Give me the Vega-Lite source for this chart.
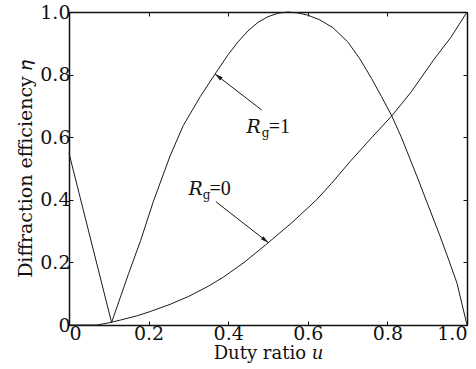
{
  "$schema": "https://vega.github.io/schema/vega-lite/v6.json",
  "width": 398,
  "height": 313,
  "autosize": {"type": "none"},
  "padding": {"left": 69, "top": 12, "right": 9, "bottom": 44},
  "background": "white",
  "config": {
    "view": {"stroke": null},
    "font": "DejaVu Serif",
    "axis": {
      "grid": false,
      "labelFont": "DejaVu Serif",
      "labelFontSize": 19,
      "labelColor": "#111",
      "titleFont": "DejaVu Serif",
      "titleFontSize": 18,
      "titleFontWeight": "normal",
      "titleColor": "#111",
      "domainColor": "#111",
      "domainWidth": 1.5,
      "tickColor": "#111",
      "tickWidth": 1,
      "tickSize": -4,
      "labelPadding": 3
    }
  },
  "datasets": {
    "curves": [
      {"series": "Rg=1", "u": 0.0, "eta": 0.549},
      {"series": "Rg=1", "u": 0.035, "eta": 0.372},
      {"series": "Rg=1", "u": 0.07, "eta": 0.195},
      {"series": "Rg=1", "u": 0.107, "eta": 0.008},
      {"series": "Rg=1", "u": 0.15, "eta": 0.165},
      {"series": "Rg=1", "u": 0.18, "eta": 0.27},
      {"series": "Rg=1", "u": 0.212, "eta": 0.395},
      {"series": "Rg=1", "u": 0.254, "eta": 0.54},
      {"series": "Rg=1", "u": 0.287, "eta": 0.637},
      {"series": "Rg=1", "u": 0.33, "eta": 0.73},
      {"series": "Rg=1", "u": 0.367, "eta": 0.802},
      {"series": "Rg=1", "u": 0.4, "eta": 0.864},
      {"series": "Rg=1", "u": 0.425, "eta": 0.905},
      {"series": "Rg=1", "u": 0.45, "eta": 0.94},
      {"series": "Rg=1", "u": 0.475, "eta": 0.967},
      {"series": "Rg=1", "u": 0.5, "eta": 0.985},
      {"series": "Rg=1", "u": 0.525, "eta": 0.996},
      {"series": "Rg=1", "u": 0.55, "eta": 1.0},
      {"series": "Rg=1", "u": 0.575, "eta": 0.997},
      {"series": "Rg=1", "u": 0.6, "eta": 0.99},
      {"series": "Rg=1", "u": 0.63, "eta": 0.975},
      {"series": "Rg=1", "u": 0.663, "eta": 0.95},
      {"series": "Rg=1", "u": 0.7, "eta": 0.905},
      {"series": "Rg=1", "u": 0.731, "eta": 0.85},
      {"series": "Rg=1", "u": 0.76, "eta": 0.788},
      {"series": "Rg=1", "u": 0.785, "eta": 0.73},
      {"series": "Rg=1", "u": 0.811, "eta": 0.668},
      {"series": "Rg=1", "u": 0.835, "eta": 0.6},
      {"series": "Rg=1", "u": 0.857, "eta": 0.53},
      {"series": "Rg=1", "u": 0.878, "eta": 0.463},
      {"series": "Rg=1", "u": 0.9, "eta": 0.39},
      {"series": "Rg=1", "u": 0.932, "eta": 0.285},
      {"series": "Rg=1", "u": 0.955, "eta": 0.205},
      {"series": "Rg=1", "u": 0.975, "eta": 0.133},
      {"series": "Rg=1", "u": 1.0, "eta": 0.0},
      {"series": "Rg=0", "u": 0.0, "eta": 0.0},
      {"series": "Rg=0", "u": 0.07, "eta": 0.0},
      {"series": "Rg=0", "u": 0.1, "eta": 0.007},
      {"series": "Rg=0", "u": 0.13, "eta": 0.016},
      {"series": "Rg=0", "u": 0.17, "eta": 0.029},
      {"series": "Rg=0", "u": 0.204, "eta": 0.043},
      {"series": "Rg=0", "u": 0.254, "eta": 0.066},
      {"series": "Rg=0", "u": 0.3, "eta": 0.091},
      {"series": "Rg=0", "u": 0.35, "eta": 0.124},
      {"series": "Rg=0", "u": 0.388, "eta": 0.153},
      {"series": "Rg=0", "u": 0.44, "eta": 0.2},
      {"series": "Rg=0", "u": 0.497, "eta": 0.259},
      {"series": "Rg=0", "u": 0.56, "eta": 0.327},
      {"series": "Rg=0", "u": 0.622, "eta": 0.4},
      {"series": "Rg=0", "u": 0.66, "eta": 0.453},
      {"series": "Rg=0", "u": 0.706, "eta": 0.522},
      {"series": "Rg=0", "u": 0.76, "eta": 0.598},
      {"series": "Rg=0", "u": 0.811, "eta": 0.668},
      {"series": "Rg=0", "u": 0.86, "eta": 0.745},
      {"series": "Rg=0", "u": 0.915, "eta": 0.845},
      {"series": "Rg=0", "u": 0.96, "eta": 0.92},
      {"series": "Rg=0", "u": 1.0, "eta": 1.0}
    ],
    "arrows": [
      {"series": "Rg=1", "u": 0.484, "eta": 0.687, "u2": 0.367, "eta2": 0.802},
      {"series": "Rg=0", "u": 0.369, "eta": 0.394, "u2": 0.501, "eta2": 0.263}
    ],
    "notes": [
      {"series": "Rg=1", "part": "R", "text": "R", "u": 0.446, "eta": 0.612},
      {"series": "Rg=1", "part": "sub", "text": "g", "u": 0.484, "eta": 0.6},
      {"series": "Rg=1", "part": "rest", "text": "=1", "u": 0.502, "eta": 0.612},
      {"series": "Rg=0", "part": "R", "text": "R", "u": 0.3, "eta": 0.415},
      {"series": "Rg=0", "part": "sub", "text": "g", "u": 0.336, "eta": 0.403},
      {"series": "Rg=0", "part": "rest", "text": "=0", "u": 0.353, "eta": 0.415}
    ]
  },
  "resolve": {"axis": {"x": "independent", "y": "independent"}},
  "layer": [
    {
      "data": {"name": "curves"},
      "mark": {"type": "line", "color": "#1a1a1a", "strokeWidth": 1},
      "encoding": {
        "x": {
          "field": "u", "type": "quantitative",
          "scale": {"domain": [0, 1], "nice": false},
          "axis": {
            "orient": "bottom",
            "values": [0, 0.2, 0.4, 0.6, 0.8, 1.0],
            "labelExpr": "datum.value === 0 ? '0' : format(datum.value, '.1f')",
            "title": "Duty ratio 𝑢",
            "titlePadding": 1
          }
        },
        "y": {
          "field": "eta", "type": "quantitative",
          "scale": {"domain": [0, 1], "nice": false},
          "axis": {
            "orient": "left",
            "values": [0, 0.2, 0.4, 0.6, 0.8, 1.0],
            "labelExpr": "datum.value === 0 ? '0' : format(datum.value, '.1f')",
            "title": "Diffraction efficiency 𝜂",
            "titleFontSize": 19,
            "titlePadding": 4
          }
        },
        "detail": {"field": "series"}
      }
    },
    {
      "data": {"name": "arrows"},
      "mark": {"type": "rule", "color": "#1a1a1a", "strokeWidth": 1},
      "encoding": {
        "x": {
          "field": "u", "type": "quantitative",
          "axis": {"orient": "top", "values": [0, 0.2, 0.4, 0.6, 0.8, 1.0], "labels": false, "title": null}
        },
        "y": {
          "field": "eta", "type": "quantitative",
          "axis": {"orient": "right", "values": [0, 0.2, 0.4, 0.6, 0.8, 1.0], "labels": false, "title": null}
        },
        "x2": {"field": "u2"},
        "y2": {"field": "eta2"}
      }
    },
    {
      "data": {"name": "arrows"},
      "transform": [{"filter": "datum.series === 'Rg=1'"}],
      "mark": {"type": "point", "shape": "M0,0L-0.25,1L0.25,1Z", "filled": true, "opacity": 1, "color": "#1a1a1a", "size": 256, "angle": 307.6},
      "encoding": {
        "x": {"field": "u2", "type": "quantitative", "axis": null},
        "y": {"field": "eta2", "type": "quantitative", "axis": null}
      }
    },
    {
      "data": {"name": "arrows"},
      "transform": [{"filter": "datum.series === 'Rg=0'"}],
      "mark": {"type": "point", "shape": "M0,0L-0.25,1L0.25,1Z", "filled": true, "opacity": 1, "color": "#1a1a1a", "size": 256, "angle": 128.5},
      "encoding": {
        "x": {"field": "u2", "type": "quantitative", "axis": null},
        "y": {"field": "eta2", "type": "quantitative", "axis": null}
      }
    },
    {
      "data": {"name": "notes"},
      "transform": [{"filter": "datum.part === 'R'"}],
      "mark": {"type": "text", "font": "DejaVu Serif", "fontStyle": "italic", "fontSize": 19, "align": "left", "baseline": "alphabetic", "color": "#111"},
      "encoding": {
        "x": {"field": "u", "type": "quantitative", "axis": null},
        "y": {"field": "eta", "type": "quantitative", "axis": null},
        "text": {"field": "text"}
      }
    },
    {
      "data": {"name": "notes"},
      "transform": [{"filter": "datum.part === 'sub'"}],
      "mark": {"type": "text", "font": "DejaVu Serif", "fontSize": 12, "align": "left", "baseline": "alphabetic", "color": "#111"},
      "encoding": {
        "x": {"field": "u", "type": "quantitative", "axis": null},
        "y": {"field": "eta", "type": "quantitative", "axis": null},
        "text": {"field": "text"}
      }
    },
    {
      "data": {"name": "notes"},
      "transform": [{"filter": "datum.part === 'rest'"}],
      "mark": {"type": "text", "font": "Liberation Serif", "fontSize": 20, "align": "left", "baseline": "alphabetic", "color": "#111"},
      "encoding": {
        "x": {"field": "u", "type": "quantitative", "axis": null},
        "y": {"field": "eta", "type": "quantitative", "axis": null},
        "text": {"field": "text"}
      }
    }
  ]
}
